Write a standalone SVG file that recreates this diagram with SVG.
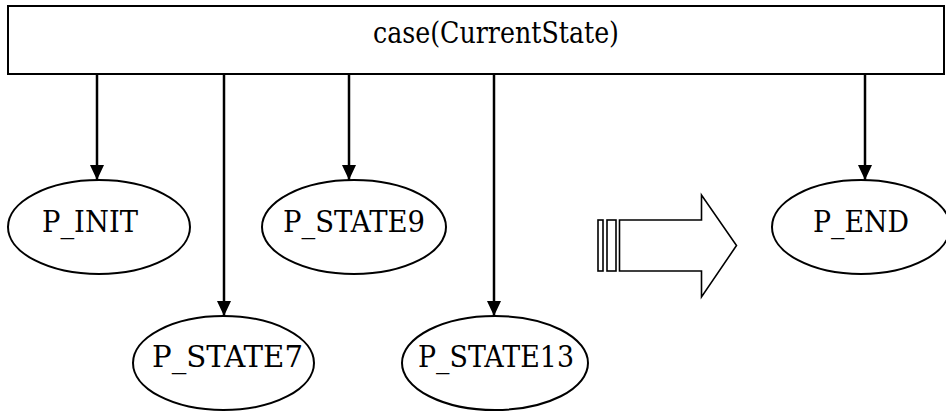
<svg xmlns="http://www.w3.org/2000/svg" width="946" height="412" viewBox="0 0 946 412">
  <style>
    .box { fill: #fff; stroke: #000; stroke-width: 2; }
    .node { fill: #fff; stroke: #000; stroke-width: 2; }
    .lbl { font-family: "DejaVu Serif", serif; font-size: 30px; fill: #000; text-anchor: middle; }
    .edge { stroke: #000; stroke-width: 2.5; fill: none; marker-end: url(#head); }
    .block { fill: #fff; stroke: #000; stroke-width: 1.6; stroke-linejoin: miter; }
  </style>
  <defs>
    <marker id="head" viewBox="0 0 15 14" refX="15" refY="7" markerWidth="15" markerHeight="14" markerUnits="userSpaceOnUse" orient="auto">
      <path d="M0,0 L15,7 L0,14 Z" fill="#000"/>
    </marker>
  </defs>

  <rect width="946" height="412" fill="#fff"/>

  <g id="switch">
    <rect class="box" x="8" y="6" width="936" height="68"/>
    <text class="lbl" x="496" y="43" textLength="246" lengthAdjust="spacingAndGlyphs">case(CurrentState)</text>
  </g>

  <g id="connectors">
    <line class="edge" x1="97" y1="74" x2="97" y2="180"/>
    <line class="edge" x1="224" y1="74" x2="224" y2="316"/>
    <line class="edge" x1="349" y1="74" x2="349" y2="180"/>
    <line class="edge" x1="494" y1="74" x2="494" y2="316"/>
    <line class="edge" x1="865" y1="74" x2="865" y2="180"/>
  </g>

  <g id="p_init">
    <ellipse class="node" cx="99" cy="227" rx="91" ry="47"/>
    <text class="lbl" x="90" y="232" textLength="96" lengthAdjust="spacingAndGlyphs">P_INIT</text>
  </g>

  <g id="p_state7">
    <ellipse class="node" cx="223.5" cy="363" rx="90.5" ry="47"/>
    <text class="lbl" x="227.5" y="367" textLength="151" lengthAdjust="spacingAndGlyphs">P_STATE7</text>
  </g>

  <g id="p_state9">
    <ellipse class="node" cx="354" cy="227" rx="92" ry="47"/>
    <text class="lbl" x="354" y="232" textLength="142" lengthAdjust="spacingAndGlyphs">P_STATE9</text>
  </g>

  <g id="p_state13">
    <ellipse class="node" cx="495" cy="363" rx="93" ry="47"/>
    <text class="lbl" x="496" y="367" textLength="156" lengthAdjust="spacingAndGlyphs">P_STATE13</text>
  </g>

  <g id="p_end">
    <ellipse class="node" cx="861" cy="227" rx="89" ry="47"/>
    <text class="lbl" x="861" y="232" textLength="96" lengthAdjust="spacingAndGlyphs">P_END</text>
  </g>

  <!-- striped block arrow pointing right -->
  <g id="ellipsis-arrow">
    <rect class="block" x="598" y="220" width="5" height="51"/>
    <rect class="block" x="607" y="220" width="9" height="51"/>
    <path class="block" d="M619.5,220 L701.5,220 L701.5,195 L736.5,245.5 L701.5,297 L701.5,271 L619.5,271 Z"/>
  </g>
</svg>
